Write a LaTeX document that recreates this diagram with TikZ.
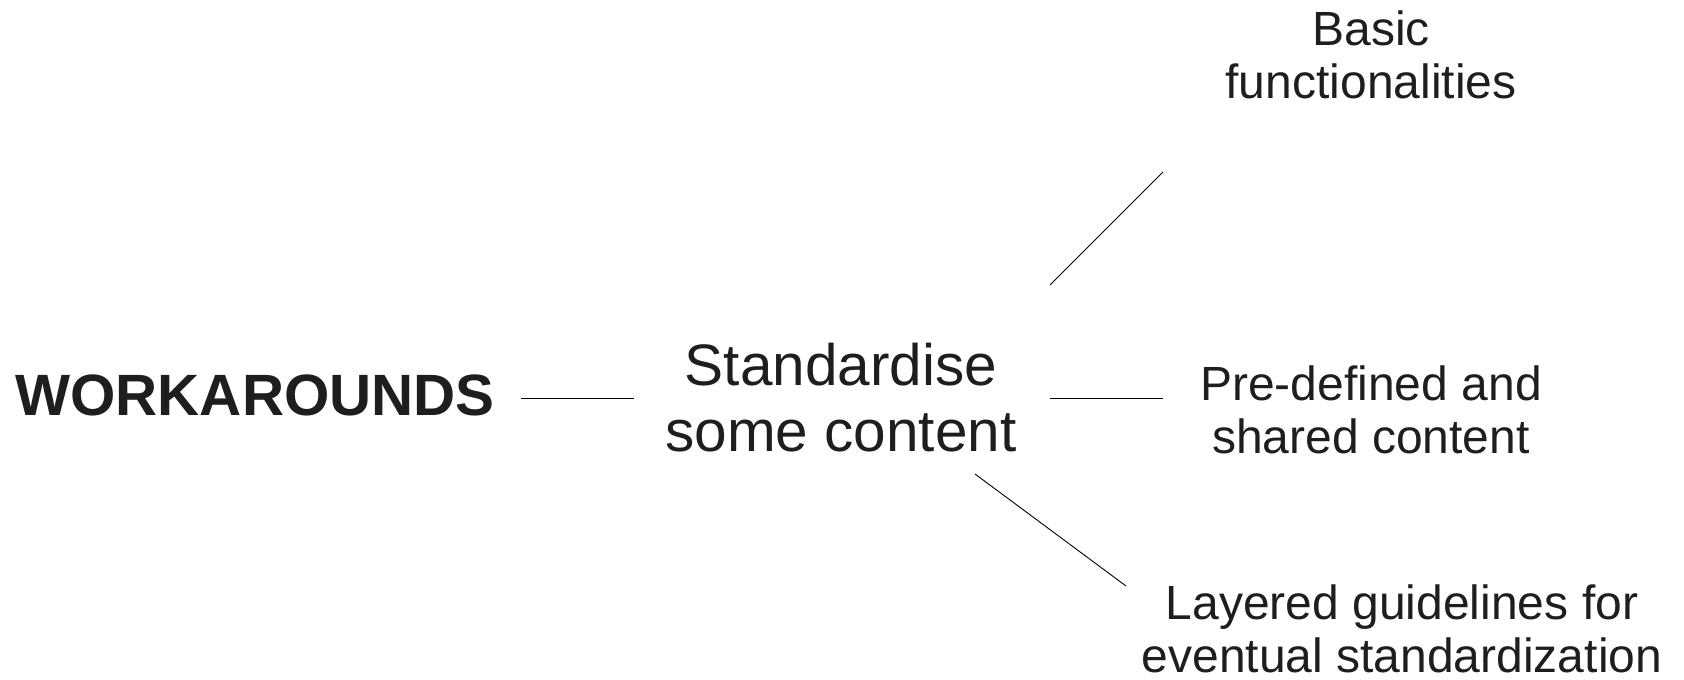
\documentclass[tikz,border=0pt]{standalone}
\usepackage{fontspec}
\setmainfont{Liberation Sans}
\definecolor{ink}{HTML}{1E1E1E}
\begin{document}
\begin{tikzpicture}[x=1pt,y=-1pt,
  big/.style={inner sep=0pt, text=ink, align=center, font=\fontsize{58.5}{66}\selectfont},
  small/.style={inner sep=0pt, text=ink, align=center, font=\fontsize{48}{53.5}\selectfont},
  link/.style={draw=black, line width=0.9pt}]
\useasboundingbox (0,0) rectangle (1684,680);
\node[big, font=\fontsize{58.3}{66}\selectfont\bfseries] (work) at (255,395) {WORKAROUNDS};
\node[big] (std) at (841,398) {Standardise\\some content};
\node[small] (basic) at (1371,55) {Basic\\functionalities};
\node[small] (pre) at (1371,410) {Pre-defined and\\shared content};
\node[small] (lay) at (1402,629) {Layered guidelines for\\eventual standardization};
% connector end points
\coordinate (a1) at (521,398); \coordinate (a2) at (634,398);
\coordinate (b1) at (1050,285); \coordinate (b2) at (1163,172);
\coordinate (c1) at (1050,398); \coordinate (c2) at (1163,398);
\coordinate (d1) at (975,474);  \coordinate (d2) at (1126,586);
\draw[link] (a1) -- (a2);
\draw[link] (b1) -- (b2);
\draw[link] (c1) -- (c2);
\draw[link] (d1) -- (d2);
\end{tikzpicture}
\end{document}
